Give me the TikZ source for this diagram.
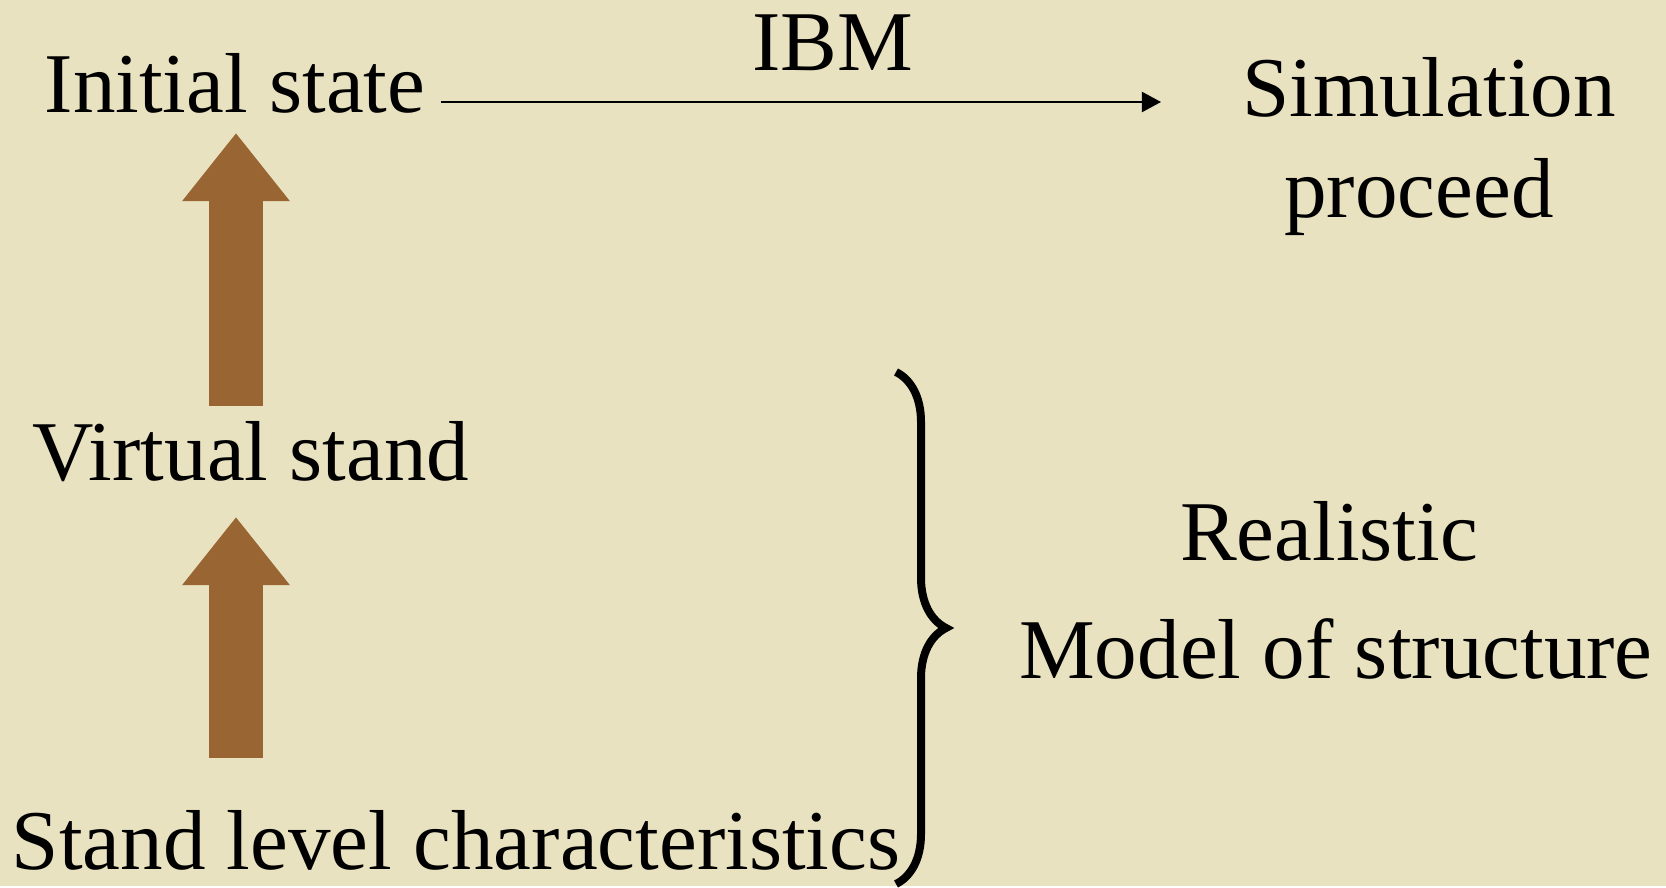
\documentclass[tikz,border=0pt]{standalone}
\usepackage{fontspec}
\setmainfont{Liberation Serif}
\usetikzlibrary{arrows.meta,decorations.pathreplacing}
\definecolor{parchment}{RGB}{233,226,192}
\definecolor{woodbrown}{RGB}{153,102,51}
\tikzset{
  label text/.style={anchor=base, inner sep=0pt, font=\fontsize{24.2}{29}\selectfont},
  thin arrow/.style={black, line width=0.02cm, -{Triangle[length=0.19cm,width=0.2cm]}},
  block arrow/.style={woodbrown, line width=0.53cm, -{Triangle[length=0.68cm,width=1.03cm]}},
  curly brace/.style={black, line width=0.08cm, decorate, decoration={brace, amplitude=0.5cm}},
}

\begin{document}
\begin{tikzpicture}[x=0.01cm,y=-0.01cm]
  \fill[parchment] (0,0) rectangle (1666,886);

  \node[label text] (init) at (235,113) {Initial state};
  \node[label text] (ibm) at (833,71) {IBM};
  \node[label text] (sim) at (1429,117) {Simulation};
  \node[label text] (proc) at (1419,218) {proceed};
  \node[label text] (virt) at (251,480) {Virtual stand};
  \node[label text] (chars) at (456,869) {Stand level characteristics};
  \node[label text] (real) at (1329,560) {Realistic};
  \node[label text] (model) at (1336,678) {Model of structure};

  % arrow ends
  \coordinate (ibmstart) at (441,102);
  \coordinate (ibmend) at (1161,102);
  \coordinate (uponebase) at (236,406);
  \coordinate (uponetip) at (236,133);
  \coordinate (uptwobase) at (236,758);
  \coordinate (uptwotip) at (236,517);
  \coordinate (bracetop) at (896,372);
  \coordinate (bracebot) at (896,884);

  \draw[thin arrow] (ibmstart) -- (ibmend);
  \draw[block arrow] (uponebase) -- (uponetip);
  \draw[block arrow] (uptwobase) -- (uptwotip);
  \draw[curly brace] (bracetop) -- (bracebot);
\end{tikzpicture}
\end{document}
